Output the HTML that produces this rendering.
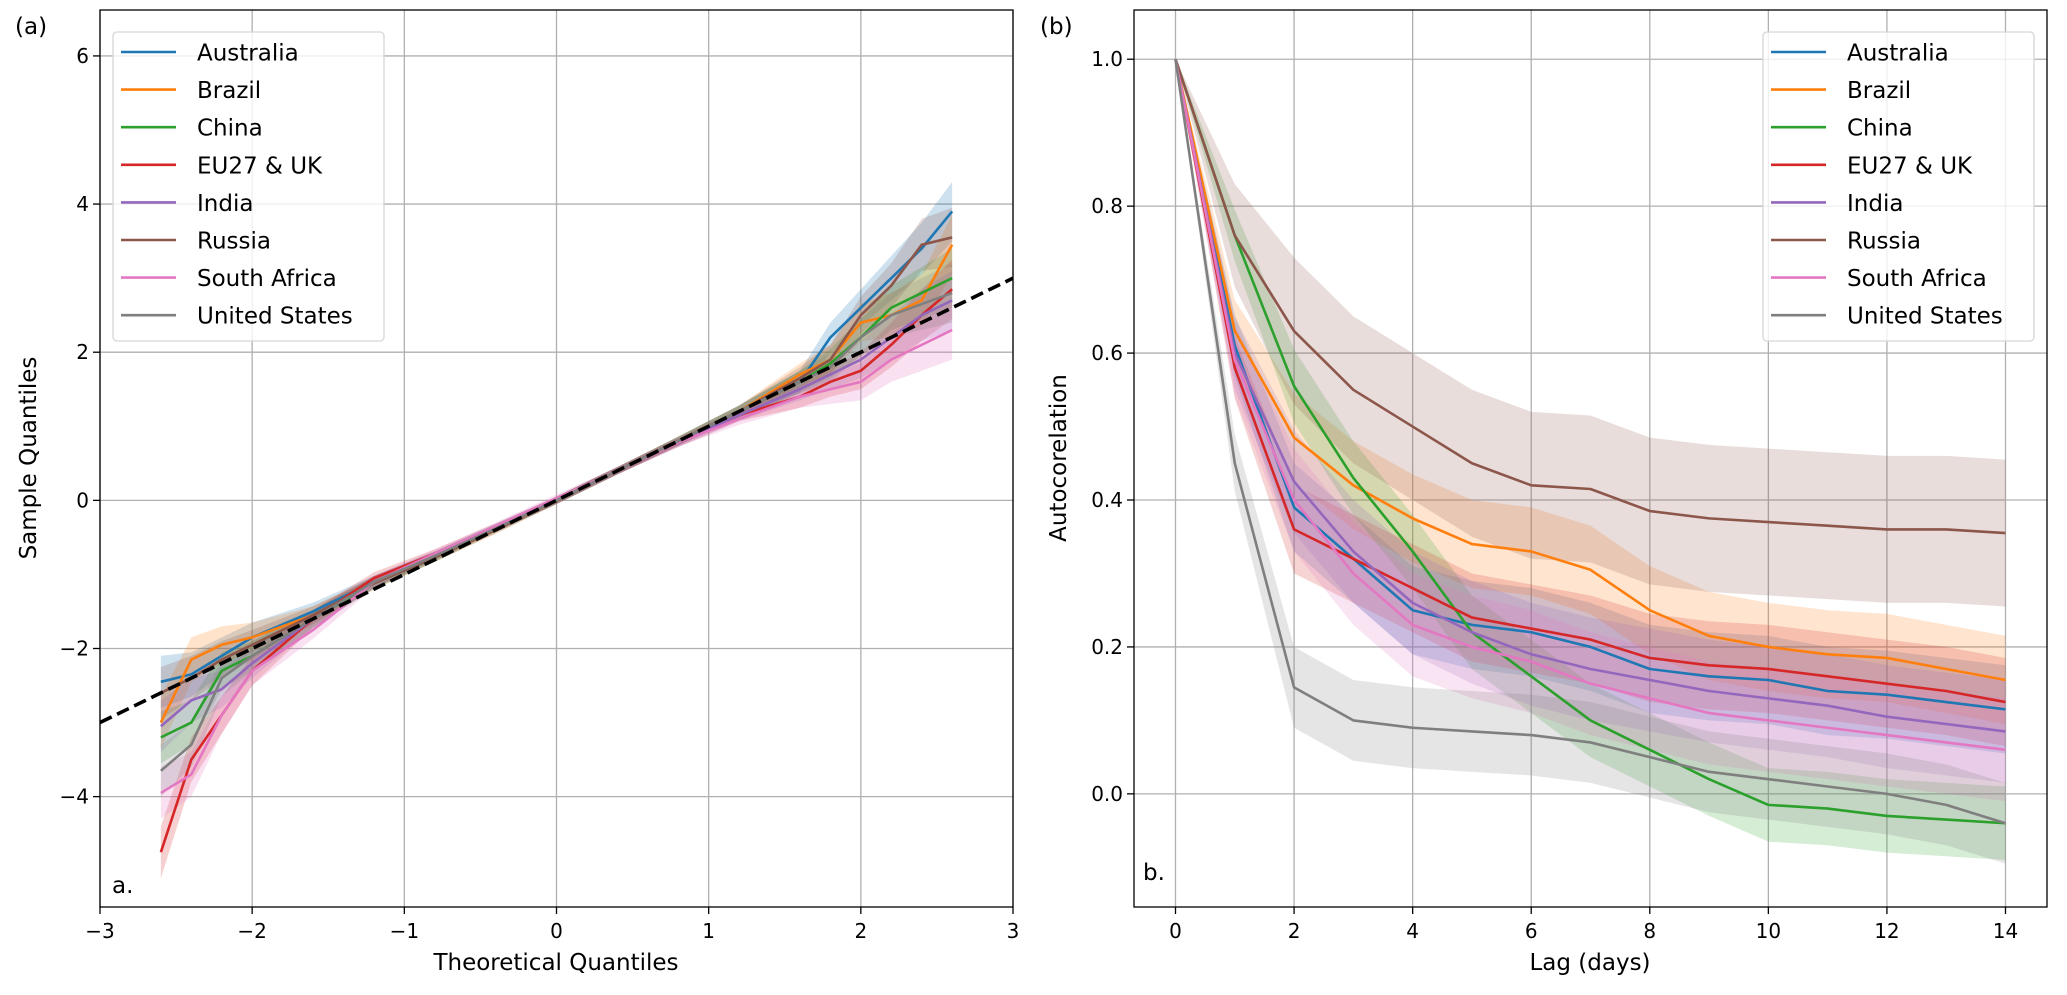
<!DOCTYPE html>
<html><head><meta charset="utf-8">
<style>
html,body{margin:0;padding:0;background:#fff;}
svg{display:block;font-family:"DejaVu Sans","Liberation Sans",sans-serif;}
</style></head>
<body>
<svg id="fig" width="2067" height="995" viewBox="0 0 2067 995" xmlns="http://www.w3.org/2000/svg"></svg>
<script>
// ---------- data ----------
const countries = ["Australia","Brazil","China","EU27 & UK","India","Russia","South Africa","United States"];
const colors = ["#1f77b4","#ff7f0e","#2ca02c","#d62728","#9467bd","#8c564b","#e377c2","#7f7f7f"];

// Panel (a): Q-Q plot
const qqTheo = [-2.6,-2.4,-2.2,-2.0,-1.6,-1.2,-0.8,-0.4,0,0.4,0.8,1.2,1.6,1.8,2.0,2.2,2.4,2.6];
const qqAustralia   = [-2.45,-2.35,-2.1,-1.85,-1.5,-1.1,-0.75,-0.37,0,0.4,0.8,1.2,1.6,2.2,2.6,3.0,3.4,3.9];
const qqBrazil      = [-3.0,-2.15,-1.95,-1.85,-1.55,-1.12,-0.77,-0.4,0,0.4,0.8,1.2,1.7,1.9,2.4,2.5,2.7,3.45];
const qqChina       = [-3.2,-3.0,-2.3,-2.1,-1.6,-1.12,-0.77,-0.38,0,0.4,0.8,1.2,1.6,1.85,2.2,2.6,2.8,3.0];
const qqEU          = [-4.75,-3.5,-2.9,-2.3,-1.6,-1.05,-0.72,-0.36,0,0.4,0.78,1.15,1.4,1.6,1.75,2.1,2.5,2.85];
const qqIndia       = [-3.05,-2.7,-2.55,-2.2,-1.6,-1.1,-0.75,-0.37,0,0.4,0.78,1.15,1.5,1.7,1.9,2.2,2.5,2.7];
const qqRussia      = [-2.6,-2.4,-2.15,-1.95,-1.55,-1.12,-0.77,-0.4,0,0.4,0.8,1.2,1.65,1.9,2.5,2.9,3.45,3.55];
const qqSouthAfrica = [-3.95,-3.7,-2.9,-2.3,-1.75,-1.1,-0.72,-0.35,0.03,0.4,0.78,1.1,1.4,1.5,1.6,1.9,2.1,2.3];
const qqUS          = [-3.65,-3.3,-2.4,-2.1,-1.6,-1.1,-0.75,-0.38,0,0.4,0.8,1.2,1.6,1.8,2.2,2.5,2.65,2.8];
const qqSeries = [qqAustralia,qqBrazil,qqChina,qqEU,qqIndia,qqRussia,qqSouthAfrica,qqUS];
const qqSpread = [0.35,0.3,0.25,0.2,0.12,0.08,0.06,0.05,0.05,0.05,0.06,0.08,0.15,0.2,0.25,0.3,0.35,0.4];

// Panel (b): autocorrelation
const lags = [0,1,2,3,4,5,6,7,8,9,10,11,12,13,14];
const acAustralia   = [1,0.61,0.39,0.32,0.25,0.23,0.22,0.2,0.17,0.16,0.155,0.14,0.135,0.125,0.115];
const acBrazil      = [1,0.63,0.485,0.42,0.375,0.34,0.33,0.305,0.25,0.215,0.2,0.19,0.185,0.17,0.155];
const acChina       = [1,0.76,0.555,0.43,0.33,0.22,0.16,0.1,0.06,0.02,-0.015,-0.02,-0.03,-0.035,-0.04];
const acEU          = [1,0.58,0.36,0.32,0.28,0.24,0.225,0.21,0.185,0.175,0.17,0.16,0.15,0.14,0.125];
const acIndia       = [1,0.6,0.425,0.33,0.26,0.22,0.19,0.17,0.155,0.14,0.13,0.12,0.105,0.095,0.085];
const acRussia      = [1,0.76,0.63,0.55,0.5,0.45,0.42,0.415,0.385,0.375,0.37,0.365,0.36,0.36,0.355];
const acSouthAfrica = [1,0.59,0.4,0.3,0.23,0.2,0.18,0.15,0.13,0.11,0.1,0.09,0.08,0.07,0.06];
const acUS          = [1,0.45,0.145,0.1,0.09,0.085,0.08,0.07,0.05,0.03,0.02,0.01,0.0,-0.015,-0.04];
const acSeries = [acAustralia,acBrazil,acChina,acEU,acIndia,acRussia,acSouthAfrica,acUS];
const acSpread = [0.06,0.06,0.05,0.06,0.07,0.1,0.07,0.055];
const acSpreadLag = [0,0.7,1,1,1,1,1,1,1,1,1,1,1,1,1];

const qqXTicks = [-3,-2,-1,0,1,2,3];
const qqYTicks = [-4,-2,0,2,4,6];
const acXTicks = [0,2,4,6,8,10,12,14];
const acYTicks = [0.0,0.2,0.4,0.6,0.8,1.0];
const acYLabels = ["0.0","0.2","0.4","0.6","0.8","1.0"];

// ---------- helpers ----------
const NS = "http://www.w3.org/2000/svg";
const svg = document.getElementById("fig");
function mk(tag, attrs, parent){
  const e = document.createElementNS(NS, tag);
  for (const k in attrs) e.setAttribute(k, attrs[k]);
  (parent||svg).appendChild(e);
  return e;
}
function txt(s, attrs, parent){ const t = mk("text", attrs, parent); t.textContent = s; return t; }

const A = {l:100, r:1013, t:10, b:907, x0:-3, x1:3, y0:-5.49, y1:6.62};
const B = {l:1134, r:2047, t:10, b:907, x0:-0.7, x1:14.7, y0:-0.154, y1:1.067};
function sx(ax,v){ return ax.l + (v-ax.x0)/(ax.x1-ax.x0)*(ax.r-ax.l); }
function sy(ax,v){ return ax.b - (v-ax.y0)/(ax.y1-ax.y0)*(ax.b-ax.t); }

function drawAxes(ax, xt, yt, ylab, name){
  const g = mk("g", {});
  
  
  xt.forEach(v=>{
    const x = sx(ax,v);
    mk("line",{x1:x,x2:x,y1:ax.t,y2:ax.b,stroke:"#b0b0b0","stroke-width":1.3},g);
  });
  yt.forEach(v=>{
    const y = sy(ax,v);
    mk("line",{x1:ax.l,x2:ax.r,y1:y,y2:y,stroke:"#b0b0b0","stroke-width":1.3},g);
  });
  const tg = mk("g", {});
  
  
  xt.forEach(v=>{
    const x = sx(ax,v);
    mk("line",{x1:x,x2:x,y1:ax.b,y2:ax.b+7,stroke:"#000","stroke-width":1.3},tg);
    const t = txt(String(v).replace("-","\u2212"),{x:x,y:ax.b+31,"font-size":20,"text-anchor":"middle",fill:"#000"},tg);
    
    
  });
  yt.forEach((v,i)=>{
    const y = sy(ax,v);
    mk("line",{x1:ax.l-7,x2:ax.l,y1:y,y2:y,stroke:"#000","stroke-width":1.3},tg);
    const s = ylab ? ylab[i] : String(v).replace("-","\u2212");
    const t = txt(s,{x:ax.l-11,y:y+7,"font-size":20,"text-anchor":"end",fill:"#000"},tg);
    
    
  });
}
function frame(ax,name){
  const r = mk("rect",{x:ax.l,y:ax.t,width:ax.r-ax.l,height:ax.b-ax.t,fill:"none",stroke:"#000","stroke-width":1.3});
  
  
}
function clip(ax,id){
  const d = mk("defs",{});
  const c = mk("clipPath",{id:id},d);
  mk("rect",{x:ax.l,y:ax.t,width:ax.r-ax.l,height:ax.b-ax.t},c);
}
function band(ax, xs, ys, spreadAt, color, alpha, parent){
  let up = [], lo = [];
  xs.forEach((x,i)=>{
    const s = spreadAt(i);
    up.push(sx(ax,x)+","+sy(ax,ys[i]+s));
    lo.unshift(sx(ax,x)+","+sy(ax,ys[i]-s));
  });
  return mk("polygon",{points:up.concat(lo).join(" "),fill:color,"fill-opacity":alpha,stroke:"none"},parent);
}
function line(ax, xs, ys, color, parent){
  const pts = xs.map((x,i)=>sx(ax,x)+","+sy(ax,ys[i])).join(" ");
  return mk("polyline",{points:pts,fill:"none",stroke:color,"stroke-width":2.6,"stroke-linejoin":"round"},parent);
}
function legend(x, y, w, h, name){
  const g = mk("g",{});
  
  
  mk("rect",{x:x,y:y,width:w,height:h,rx:4,fill:"#fff","fill-opacity":0.8,stroke:"#d6d6d6","stroke-width":1.3},g);
  countries.forEach((c,i)=>{
    const yy = y + 20 + i*37.6;
    const e = mk("g",{},g);
    
    
    mk("line",{x1:x+8,x2:x+63,y1:yy,y2:yy,stroke:colors[i],"stroke-width":2.6},e);
    txt(c,{x:x+84,y:yy+8.5,"font-size":23,fill:"#000"},e);
  });
}

// ---------- panel (a) ----------
drawAxes(A, qqXTicks, qqYTicks, null, "qq");
clip(A,"clipA");
const gA = mk("g",{"clip-path":"url(#clipA)"});


qqSeries.forEach((s,i)=>{
  const b = band(A, qqTheo, s, k=>qqSpread[k], colors[i], 0.22, gA);
  
  
});
qqSeries.forEach((s,i)=>{
  const l = line(A, qqTheo, s, colors[i], gA);
  
  
});
const ref = mk("line",{x1:sx(A,-3),y1:sy(A,-3),x2:sx(A,3),y2:sy(A,3),stroke:"#000","stroke-width":3.6,"stroke-dasharray":"13,6"},gA);


frame(A,"qq");
legend(113, 32, 271, 309, "legend-a");

// ---------- panel (b) ----------
drawAxes(B, acXTicks, acYTicks, acYLabels, "ac");
clip(B,"clipB");
const gB = mk("g",{"clip-path":"url(#clipB)"});


acSeries.forEach((s,i)=>{
  const b = band(B, lags, s, k=>acSpread[i]*acSpreadLag[k], colors[i], 0.2, gB);
  
  
});
acSeries.forEach((s,i)=>{
  const l = line(B, lags, s, colors[i], gB);
  
  
});
frame(B,"ac");
legend(1763, 32, 271, 309, "legend-b");

// ---------- labels ----------
function label(s, attrs, name){
  const t = txt(s, attrs);
  
  
}
label("(a)",{x:15,y:34,"font-size":23},"panel-label-a");
label("(b)",{x:1040,y:34,"font-size":23},"panel-label-b");
label("a.",{x:112,y:893,"font-size":23},"corner-label-a");
label("b.",{x:1143,y:880,"font-size":23},"corner-label-b");
label("Theoretical Quantiles",{x:556,y:970,"font-size":23,"text-anchor":"middle"},"x-axis-title-a");
label("Lag (days)",{x:1590,y:970,"font-size":23,"text-anchor":"middle"},"x-axis-title-b");
label("Sample Quantiles",{x:36,y:458,"font-size":23,"text-anchor":"middle",transform:"rotate(-90 36 458)"},"y-axis-title-a");
label("Autocorelation",{x:1066,y:458,"font-size":23,"text-anchor":"middle",transform:"rotate(-90 1066 458)"},"y-axis-title-b");
</script>
</body></html>
